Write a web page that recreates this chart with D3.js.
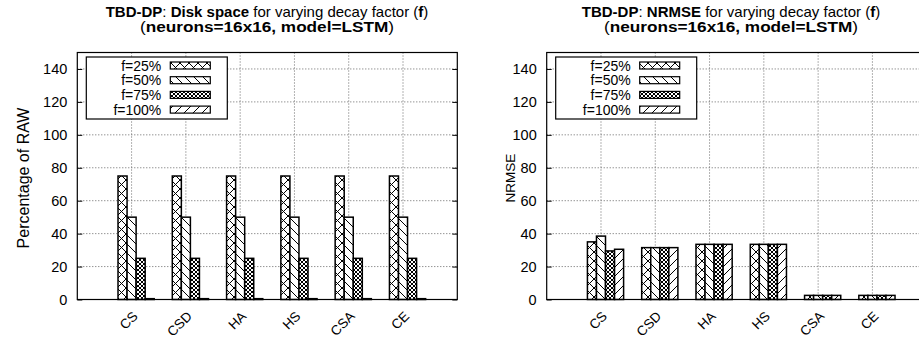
<!DOCTYPE html>
<html><head><meta charset="utf-8">
<script src="https://cdn.jsdelivr.net/npm/d3@7"></script>
<style>body{margin:0;background:#fff}svg{display:block}text{font-family:"Liberation Sans",Arial,sans-serif;fill:#000}</style>
</head><body>
<script>
const categories = ["CS","CSD","HA","HS","CSA","CE"];
const seriesNames = ["f=25%","f=50%","f=75%","f=100%"];
const diskSpace = [
  [75,75,75,75,75,75],
  [50,50,50,50,50,50],
  [25,25,25,25,25,25],
  [0.5,0.5,0.5,0.5,0.5,0.5]
];
const nrmse = [
  [35,31.5,33.5,33.5,2.5,2.5],
  [38.5,31.5,33.5,33.5,2.5,2.5],
  [29.5,31.5,33.5,33.5,2.5,2.5],
  [30.5,31.5,33.5,33.5,2.5,2.5]
];
const yTicks = [0,20,40,60,80,100,120,140];

const W=919,H=343;
const svg=d3.select("body").append("svg").attr("width",W).attr("height",H);
const defs=svg.append("defs");
function pat(id,size,paths,sw){
  const p=defs.append("pattern").attr("id",id).attr("patternUnits","userSpaceOnUse").attr("width",size).attr("height",size);
  p.append("rect").attr("width",size).attr("height",size).attr("fill","#fff");
  paths.forEach(d=>p.append("path").attr("d",d).attr("stroke","#000").attr("stroke-width",sw).attr("fill","none"));
}
pat("p0",9,["M0,0L9,9","M9,0L0,9","M-1,8L1,10","M8,-1L10,1"],1);
pat("p1",9,["M0,0L9,9","M-1,8L1,10","M8,-1L10,1"],1);
pat("p2",4,["M0,0L4,4","M4,0L0,4"],1);
pat("p3",9,["M0,9L9,0","M-1,1L1,-1","M8,10L10,8"],1);
const fills=["url(#p0)","url(#p1)","url(#p2)","url(#p3)"];

function chart(x0,x1,titleBold,yLabel,yLabelSize,data,titleCx,yLabelX){
  const g=svg.append("g");
  const x=d3.scaleLinear().domain([-1,6]).range([x0,x1]);
  const y=d3.scaleLinear().domain([0,150]).range([299.5,52.5]);
  const unit=x(1)-x(0), bw=unit/6;
  g.append("g").selectAll("line").data(yTicks.filter(t=>t>0)).join("line")
    .attr("x1",x0).attr("x2",x1).attr("y1",d=>y(d)).attr("y2",d=>y(d))
    .attr("stroke","#666").attr("stroke-dasharray","1,2").attr("stroke-width",1);
  g.append("g").selectAll("line").data(categories).join("line")
    .attr("x1",(d,i)=>x(i)).attr("x2",(d,i)=>x(i)).attr("y1",y(0)).attr("y2",y(150))
    .attr("stroke","#666").attr("stroke-dasharray","1,2").attr("stroke-width",1);
  data.forEach((vals,j)=>{
    g.append("g").selectAll("rect").data(vals).join("rect")
      .attr("x",(d,i)=>x(i)+(j-1.5)*bw)
      .attr("width",bw)
      .attr("y",d=>y(d)).attr("height",d=>y(0)-y(d))
      .attr("fill",fills[j]).attr("stroke","#000").attr("stroke-width",1.5);
  });
  g.append("rect").attr("x",x0).attr("y",y(150)).attr("width",x1-x0).attr("height",y(0)-y(150))
    .attr("fill","none").attr("stroke","#000").attr("stroke-width",1.2);
  const ax=d3.axisLeft(y).tickValues(yTicks).tickSize(-5).tickPadding(10).tickFormat(d3.format("d"));
  const ag=g.append("g").attr("transform",`translate(${x0},0)`).call(ax);
  ag.select(".domain").remove();
  ag.selectAll("text").attr("font-size",14.5).attr("font-family","Liberation Sans, Arial, sans-serif");
  const ax2=d3.axisRight(y).tickValues(yTicks).tickSize(-5).tickFormat("");
  const ag2=g.append("g").attr("transform",`translate(${x1},0)`).call(ax2);
  ag2.select(".domain").remove();
  g.append("g").selectAll("text").data(categories).join("text")
    .attr("transform",(d,i)=>`translate(${x(i)+7},${317}) rotate(-45)`)
    .attr("text-anchor","end").attr("font-size",13.5).text(d=>d);
  g.append("text").attr("transform",`translate(${yLabelX},178) rotate(-90)`)
    .attr("text-anchor","middle").attr("font-size",yLabelSize).text(yLabel);
  const t1=g.append("text").attr("x",titleCx).attr("y",16.5).attr("text-anchor","middle").attr("font-size",15);
  t1.append("tspan").attr("font-weight","bold").text("TBD-DP");
  t1.append("tspan").text(": ");
  t1.append("tspan").attr("font-weight","bold").text(titleBold);
  t1.append("tspan").text(" for varying decay factor (");
  t1.append("tspan").attr("font-weight","bold").text("f");
  t1.append("tspan").text(")");
  const t2=g.append("text").attr("x",titleCx).attr("y",31.5).attr("text-anchor","middle").attr("font-size",14)
    .attr("textLength",254).attr("lengthAdjust","spacingAndGlyphs");
  t2.append("tspan").text("(");
  t2.append("tspan").attr("font-weight","bold").text("neurons=16x16, model=LSTM");
  t2.append("tspan").text(")");
  const lx=x0+9, ly=57;
  const lg=g.append("g");
  lg.append("rect").attr("x",lx).attr("y",ly).attr("width",141).attr("height",62)
    .attr("fill","#fff").attr("stroke","#000").attr("stroke-width",1.2);
  seriesNames.forEach((s,j)=>{
    const cy=ly+8.5+j*14.7;
    lg.append("text").attr("x",lx+75).attr("y",cy+5).attr("text-anchor","end").attr("font-size",14).text(s);
    lg.append("rect").attr("x",lx+84).attr("y",cy-3.5).attr("width",40).attr("height",7)
      .attr("fill",fills[j]).attr("stroke","#000").attr("stroke-width",1.2);
  });
}
chart(77.3,457.3,"Disk space","Percentage of RAW",16,diskSpace,267,29);
chart(546.7,926.7,"NRMSE","NRMSE",13.5,nrmse,731,515);
</script>
</body></html>
